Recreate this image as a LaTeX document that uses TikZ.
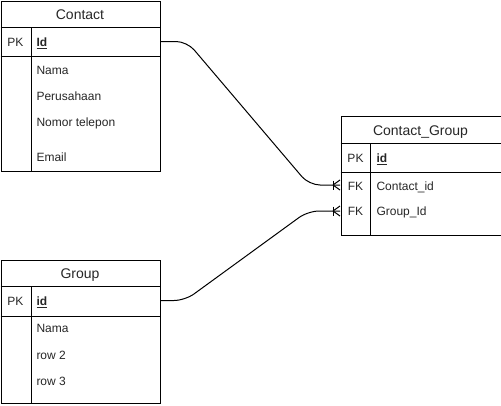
\documentclass[tikz,border=0pt]{standalone}
\usepackage{fontspec}
\setmainfont{Liberation Sans}
\begin{document}
\begin{tikzpicture}[x=1pt,y=-1pt,line width=1pt,
  tbl/.style={draw,rectangle,inner sep=0pt,anchor=north west},
  rowbox/.style={rectangle,inner sep=0pt,minimum height=29pt},
  ttl/.style={inner sep=0pt,text height=10pt,text depth=0pt,text=black!85,font=\fontsize{14}{16}\selectfont},
  key/.style={inner sep=0pt,text height=8.6pt,text depth=0pt,text=black!85,font=\fontsize{12}{14}\selectfont},
  fld/.style={inner sep=0pt,text height=8.6pt,text depth=0pt,text=black!85,anchor=west,font=\fontsize{12}{14}\selectfont},
  rel/.style={rounded corners=11pt}]
\useasboundingbox (0,0) rectangle (501,405);

% ---------- Contact ----------
\node[tbl,minimum width=159pt,minimum height=170pt] (contact) at (0.5,0.5) {};
\draw (0.5,27) -- (160,27);
\draw (0.5,56) -- (160,56);
\draw (31,27) -- (31,170.5);
\node[ttl] (contact-t) at (80,14) {Contact};
\node[rowbox,minimum width=159pt] (contact-idrow) at (80,41.5) {};
\node[key] (contact-pk) at (15.5,42) {PK};
\node[fld] (contact-id) at (36,42) {\underline{\textbf{Id}}};
\node[fld] (contact-nama) at (36,70) {Nama};
\node[fld] (contact-per) at (36,96) {Perusahaan};
\node[fld] (contact-tel) at (36,122) {Nomor telepon};
\node[fld] (contact-email) at (36,157) {Email};

% ---------- Contact_Group ----------
\node[tbl,minimum width=160pt,minimum height=119pt] (cg) at (340.5,116) {};
\draw (340.5,143) -- (500.5,143);
\draw (340.5,172) -- (500.5,172);
\draw (370.5,143) -- (370.5,235);
\node[ttl] (cg-t) at (420.5,130.5) {Contact\_Group};
\node[key] (cg-pk) at (355.5,158) {PK};
\node[fld] (cg-id) at (376,158) {\underline{\textbf{id}}};
\node[rowbox,minimum width=160pt,minimum height=24pt] (cg-cidrow) at (420.5,185) {};
\node[rowbox,minimum width=160pt,minimum height=24pt] (cg-gidrow) at (420.5,211) {};
\node[key] (cg-fk1) at (355.5,186) {FK};
\node[fld] (cg-cid) at (376,186) {Contact\_id};
\node[key] (cg-fk2) at (355.5,211) {FK};
\node[fld] (cg-gid) at (376,211) {Group\_Id};

% ---------- Group ----------
\node[tbl,minimum width=159pt,minimum height=143pt] (group) at (0.5,260) {};
\draw (0.5,286) -- (160,286);
\draw (0.5,316) -- (160,316);
\draw (31,286) -- (31,403);
\node[ttl] (group-t) at (80,273) {Group};
\node[rowbox,minimum width=159pt] (group-idrow) at (80,300.5) {};
\node[key] (group-pk) at (15.5,301) {PK};
\node[fld] (group-id) at (36,301) {\underline{\textbf{id}}};
\node[fld] (group-nama) at (36,328) {Nama};
\node[fld] (group-r2) at (36,355) {row 2};
\node[fld] (group-r3) at (36,381) {row 3};

% ---------- relations ----------
\draw[rel] (contact-idrow.east) -- (187,41.5) -- (309,185) -- (cg-cidrow.west);
\draw[rel] (group-idrow.east) -- (185,300.5) -- (308,211) -- (cg-gidrow.west);

% crow's feet
\draw ([xshift=-7pt]cg-cidrow.west) ++(0,-4.5) -- ++(0,9);
\draw ([xshift=-7pt]cg-cidrow.west) -- ([yshift=-5pt]cg-cidrow.west);
\draw ([xshift=-7pt]cg-cidrow.west) -- ([yshift=5pt]cg-cidrow.west);
\draw ([xshift=-7pt]cg-gidrow.west) ++(0,-4.5) -- ++(0,9);
\draw ([xshift=-7pt]cg-gidrow.west) -- ([yshift=-5pt]cg-gidrow.west);
\draw ([xshift=-7pt]cg-gidrow.west) -- ([yshift=5pt]cg-gidrow.west);
\end{tikzpicture}
\end{document}
